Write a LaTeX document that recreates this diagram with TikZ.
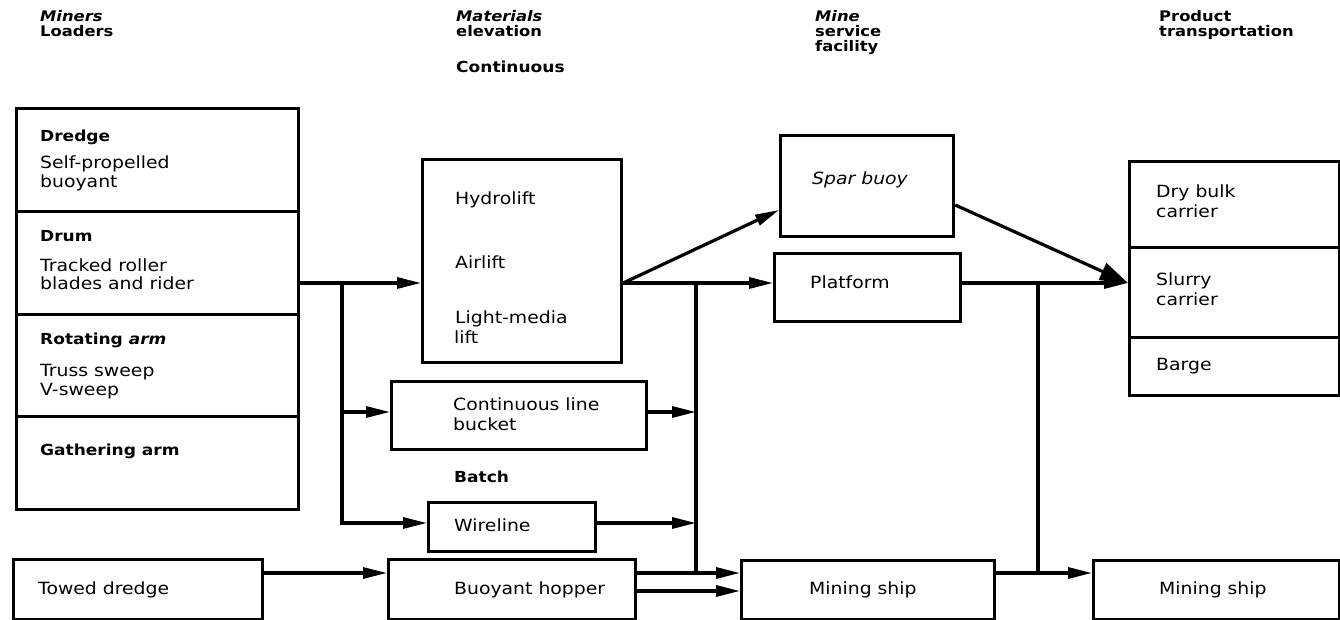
\documentclass[tikz,border=0pt]{standalone}
\usepackage{fontspec}
\setmainfont{DejaVu Sans}[FakeStretch=1.12]
\usetikzlibrary{arrows.meta}
\begin{document}
\begin{tikzpicture}[x=1pt,y=-1pt,
  box/.style={draw, line width=3.2pt, inner sep=0pt, anchor=north west},
  txt/.style={anchor=base west, inner sep=0pt, font=\fontsize{16.8}{19}\selectfont},
  lbl/.style={anchor=base west, inner sep=0pt, font=\fontsize{15.2}{17}\selectfont\bfseries},
  hdr/.style={anchor=base west, inner sep=0pt, font=\fontsize{14.6}{16}\selectfont\bfseries},
  conn/.style={line width=3.2pt},
  arr/.style={conn, -{Triangle[length=24pt,width=11pt]}},
  bigarr/.style={conn, -{Triangle[length=28pt,width=18pt]}}
]
\useasboundingbox (0,0) rectangle (1340,620);

% boxes
\node[box, minimum width=282pt, minimum height=103pt] (dredgeB) at (15,107) {};
\node[box, minimum width=282pt, minimum height=103pt] (drumB) at (15,210) {};
\node[box, minimum width=282pt, minimum height=102pt] (rotB) at (15,313) {};
\node[box, minimum width=282pt, minimum height=93pt] (gathB) at (15,415) {};
\node[box, minimum width=249pt, minimum height=60pt] (towedB) at (12,558) {};
\node[box, minimum width=199pt, minimum height=203pt] (hydroB) at (421,158) {};
\node[box, minimum width=255pt, minimum height=68pt] (bucketB) at (390,380) {};
\node[box, minimum width=167pt, minimum height=49pt] (wireB) at (427,501) {};
\node[box, minimum width=247pt, minimum height=60pt] (hopperB) at (387,558) {};
\node[box, minimum width=173pt, minimum height=101pt] (sparB) at (779,134) {};
\node[box, minimum width=186pt, minimum height=68pt] (platB) at (773,252) {};
\node[box, minimum width=253pt, minimum height=59pt] (ship1B) at (740,559) {};
\node[box, minimum width=210pt, minimum height=86pt] (dryB) at (1128,160) {};
\node[box, minimum width=210pt, minimum height=90pt] (slurryB) at (1128,246) {};
\node[box, minimum width=210pt, minimum height=58pt] (bargeB) at (1128,336) {};
\node[box, minimum width=246pt, minimum height=59pt] (ship2B) at (1092,559) {};

% routing coordinates
\coordinate (r1) at (0,283);
\coordinate (jL) at (342,283);
\coordinate (jM) at (696,283);
\coordinate (jR) at (1038,283);
\coordinate (bk) at (0,412);
\coordinate (wl) at (0,523);
\coordinate (b1) at (0,573);
\coordinate (b2) at (0,591);
\coordinate (sp) at (0,210);
\coordinate (so) at (0,205);

% connectors
\draw[arr] (drumB.east |- r1) -- (hydroB.west |- r1);
\draw[arr] (jL) |- (bucketB.west |- bk);
\draw[arr] (jL) |- (wireB.west |- wl);
\draw[arr] (hydroB.east |- r1) -- (platB.west |- r1);
\draw[arr] (hydroB.east |- r1) -- (sparB.west |- sp);
\draw[conn] (jM) -- (jM |- b1);
\draw[arr] (bucketB.east |- bk) -- (jM |- bk);
\draw[arr] (wireB.east |- wl) -- (jM |- wl);
\draw[arr] (towedB.east |- b1) -- (hopperB.west |- b1);
\draw[arr] (hopperB.east |- b1) -- (ship1B.west |- b1);
\draw[arr] (hopperB.east |- b2) -- (ship1B.west |- b2);
\draw[bigarr] (sparB.east |- so) -- (slurryB.west |- r1);
\draw[arr] (platB.east |- r1) -- (slurryB.west |- r1);
\draw[conn] (jR) -- (jR |- b1);
\draw[arr] (ship1B.east |- b1) -- (ship2B.west |- b1);

% headers
\node[hdr] (hMiners) at (40,22) {\itshape Miners};
\node[hdr] (hLoaders) at (40,37) {Loaders};
\node[hdr] (hMat) at (456,22) {\itshape Materials};
\node[hdr] (hElev) at (456,37) {elevation};
\node[hdr] (hMine) at (815,22) {\itshape Mine};
\node[hdr] (hServ) at (815,37) {service};
\node[hdr] (hFac) at (815,52) {facility};
\node[hdr] (hProd) at (1159,22) {Product};
\node[hdr] (hTrans) at (1159,37) {transportation};
\node[lbl] (lCont) at (456,73) {Continuous};

% left column
\node[lbl] (lDredge) at (40,142) {Dredge};
\node[txt] (tSelf) at (40,169) {Self-propelled};
\node[txt] (tBuoy) at (40,188) {buoyant};
\node[lbl] (lDrum) at (40,242) {Drum};
\node[txt] (tTrack) at (40,271) {Tracked roller};
\node[txt] (tBlades) at (40,289) {blades and rider};
\node[lbl] (lRot) at (40,344) {Rotating \itshape arm};
\node[txt] (tTruss) at (40,376) {Truss sweep};
\node[txt] (tV) at (40,395) {V-sweep};
\node[lbl] (lGath) at (40,455) {Gathering arm};
\node[txt] (tTowed) at (38,594) {Towed dredge};

% middle column
\node[txt] (tHydro) at (455,205) {Hydrolift};
\node[txt] (tAir) at (455,268) {Airlift};
\node[txt] (tLight) at (455,323) {Light-media};
\node[txt] (tLift) at (454,343) {lift};
\node[txt] (tCLine) at (453,410) {Continuous line};
\node[txt] (tBucket) at (453,430) {bucket};
\node[lbl] (lBatch) at (454,482) {Batch};
\node[txt] (tWire) at (454,531) {Wireline};
\node[txt] (tHopper) at (454,594) {Buoyant hopper};

% mine service facility
\node[txt] (tSpar) at (812,185) {\itshape Spar buoy};
\node[txt] (tPlat) at (810,288) {Platform};
\node[txt] (tShip1) at (809,594) {Mining ship};

% product transportation
\node[txt] (tDry) at (1156,198) {Dry bulk};
\node[txt] (tCar1) at (1156,218) {carrier};
\node[txt] (tSlurry) at (1156,285) {Slurry};
\node[txt] (tCar2) at (1156,305) {carrier};
\node[txt] (tBarge) at (1156,370) {Barge};
\node[txt] (tShip2) at (1159,594) {Mining ship};
\end{tikzpicture}
\end{document}
